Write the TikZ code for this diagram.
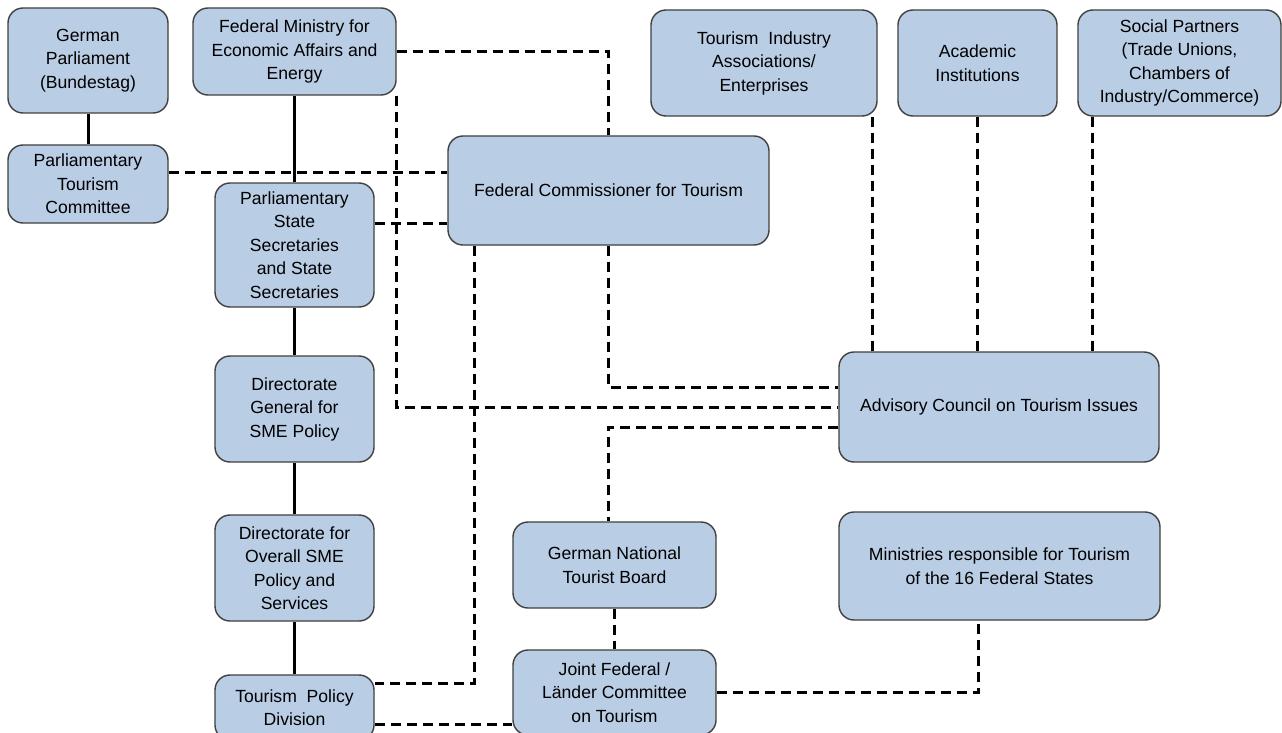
\documentclass[tikz,border=0pt]{standalone}
\usepackage{fontspec}
\setmainfont{Liberation Sans}
\usetikzlibrary{positioning}
\definecolor{boxFill}{HTML}{B9CDE5}
\definecolor{boxLine}{HTML}{404040}

\begin{document}
\begin{tikzpicture}[
    x=1pt, y=-1pt,
    box/.style={draw=boxLine, line width=1.4pt, fill=boxFill, rounded corners=15pt,
                align=center, inner sep=0pt, font=\fontsize{17.6}{23.5}\selectfont},
    solidlink/.style={line width=3pt},
    dashlink/.style={line width=3pt, dash pattern=on 10pt off 6pt},
  ]
    \path[use as bounding box, fill=white] (0,0) rectangle (1282,733);

    % Parliament
    \node[box, minimum width=160pt, minimum height=105pt] (parl) at (88,60.5) {German\\Parliament\\(Bundestag)};
    \node[box, minimum width=160pt, minimum height=78pt] (ptc) at (88,184) {Parliamentary\\Tourism\\Committee};

    % Ministry
    \node[box, minimum width=203pt, minimum height=87pt] (bmwi) at (294.5,51.5) {Federal Ministry for\\Economic Affairs and\\Energy};
    \node[box, minimum width=159pt, minimum height=124pt] (pss) at (294.5,245) {Parliamentary\\State\\Secretaries\\and State\\Secretaries};
    \node[box, minimum width=159pt, minimum height=106pt] (dg) at (294.5,409) {Directorate\\General for\\SME Policy};
    \node[box, minimum width=159pt, minimum height=106pt] (dsme) at (294.5,568) {Directorate for\\Overall SME\\Policy and\\Services};
    \node[box, minimum width=159pt, minimum height=65pt] (tpd) at (294.5,707.5) {Tourism\ \ Policy\\Division};

    % Commissioner
    \node[box, minimum width=321pt, minimum height=109pt] (fc) at (608.5,190.5) {Federal Commissioner for Tourism};

    % Advisory council members
    \node[box, minimum width=226pt, minimum height=106pt] (tia) at (764,63) {Tourism\ \ Industry\\Associations/\\Enterprises};
    \node[box, minimum width=159pt, minimum height=106pt] (acad) at (977.5,63) {Academic\\Institutions};
    \node[box, minimum width=203pt, minimum height=106pt] (social) at (1179.5,63) {Social Partners\\(Trade Unions,\\Chambers of\\Industry/Commerce)};
    \node[box, minimum width=320pt, minimum height=110pt] (council) at (999,407) {Advisory Council on Tourism Issues};

    % Tourist board and Laender
    \node[box, minimum width=203pt, minimum height=86pt] (gntb) at (614.5,565) {German National\\Tourist Board};
    \node[box, minimum width=203pt, minimum height=85pt] (joint) at (614.5,692.5) {Joint Federal /\\Länder Committee\\on Tourism};
    \node[box, minimum width=321pt, minimum height=108pt] (states) at (999.5,566) {Ministries responsible for Tourism\\of the 16 Federal States};

    % hierarchy
    \draw[solidlink] (parl) -- (ptc);
    \draw[solidlink] (bmwi) -- (pss);
    \draw[solidlink] (pss) -- (dg);
    \draw[solidlink] (dg) -- (dsme);
    \draw[solidlink] (dsme) -- (tpd);

    % cooperation
    \draw[dashlink] (bmwi.east) -| (fc.north);
    \draw[dashlink] ([yshift=12pt]ptc.east) -- ([yshift=12pt]ptc.east -| fc.west);
    \draw[dashlink] ([yshift=22pt]pss.east) -- ([yshift=22pt]pss.east -| fc.west);
    \draw[dashlink] (bmwi.south east) |- (council.west);
    \draw[dashlink] (fc.south) |- ([yshift=20pt]council.west);
    \draw[dashlink] ([xshift=27pt]fc.south west) |- ([yshift=24.5pt]tpd.east);
    \draw[dashlink] ([yshift=-20pt]council.west) -| ([xshift=-6pt]gntb.north);
    \draw[dashlink] (gntb) -- (joint);
    \draw[dashlink] ([yshift=-16.5pt]tpd.east) -- ([yshift=-16.5pt]tpd.east -| joint.west);
    \draw[dashlink] (joint.east) -| ([xshift=-21.5pt]states.south);
    \draw[dashlink] ([xshift=-5pt]tia.south east) -- ([xshift=-5pt]tia.south east |- council.north);
    \draw[dashlink] (acad.south) -- (acad.south |- council.north);
    \draw[dashlink] ([xshift=15pt]social.south west) -- ([xshift=15pt]social.south west |- council.north);
  \end{tikzpicture}
\end{document}
